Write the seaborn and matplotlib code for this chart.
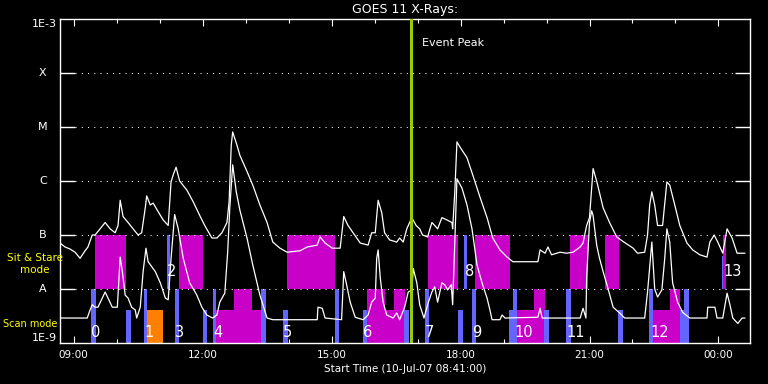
import numpy as np
import pandas as pd
import matplotlib
matplotlib.use("Agg")
import matplotlib.pyplot as plt
import seaborn as sns

# start of the plot window, 10-Jul-07 08:41:00 (hours of day)
start_hour = 8 + 41 / 60.0
window_min = 963

# GOES 11 long channel (1-8 A): minutes after start, flux W/m^2
hi_min = [0, 7, 14, 21, 28, 35, 39, 45, 49, 56,
          63, 70, 77, 81, 84, 88, 95, 102, 109, 114,
          119, 121, 126, 130, 137, 144, 151, 155, 158, 162,
          167, 177, 186, 195, 202, 212, 219, 226, 233, 236,
          239, 241, 247, 251, 261, 269, 279, 289, 297, 307,
          317, 335, 345, 359, 363, 370, 380, 391, 396, 402,
          409, 419, 430, 435, 440, 444, 449, 453, 460, 470,
          474, 479, 484, 491, 497, 502, 506, 513, 519, 523,
          527, 533, 540, 547, 548, 551, 554, 558, 568, 576,
          586, 596, 604, 614, 624, 632, 652, 667, 670, 677,
          681, 686, 698, 707, 716, 726, 730, 735, 739, 744,
          749, 758, 767, 777, 787, 800, 806, 816, 820, 823,
          826, 830, 834, 841, 847, 851, 858, 865, 875, 883,
          893, 903, 907, 913, 918, 925, 931, 938, 945, 956]
hi_flux = [7.1e-8, 6.0e-8, 5.5e-8, 4.8e-8, 3.7e-8, 5.1e-8, 6.0e-8, 1.0e-7, 1.0e-7, 1.3e-7,
           1.7e-7, 1.3e-7, 1.1e-7, 1.5e-7, 4.4e-7, 2.2e-7, 1.7e-7, 1.3e-7, 1.0e-7, 1.1e-7,
           3.2e-7, 5.3e-7, 3.6e-7, 3.9e-7, 2.7e-7, 1.9e-7, 1.5e-7, 9.6e-7, 1.3e-6, 1.8e-6,
           1.0e-6, 6.8e-7, 4.1e-7, 2.3e-7, 1.5e-7, 8.8e-8, 8.8e-8, 1.1e-7, 1.7e-7, 4.1e-7,
           4.6e-6, 8.1e-6, 4.6e-6, 3.0e-6, 1.5e-6, 8.4e-7, 3.6e-7, 1.7e-7, 7.4e-8, 5.7e-8,
           4.8e-8, 5.1e-8, 6.0e-8, 6.5e-8, 9.2e-8, 7.1e-8, 5.7e-8, 5.7e-8, 2.2e-7, 1.5e-7,
           1.1e-7, 7.1e-8, 6.5e-8, 1.1e-7, 1.1e-7, 4.4e-7, 2.6e-7, 1.1e-7, 8.1e-8, 7.4e-8,
           8.8e-8, 7.4e-8, 1.3e-7, 2.1e-7, 1.5e-7, 1.3e-7, 1.0e-7, 9.2e-8, 1.7e-7, 1.5e-7,
           1.3e-7, 2.1e-7, 1.9e-7, 1.7e-7, 1.3e-7, 6.3e-7, 5.3e-6, 4.3e-6, 2.7e-6, 1.3e-6,
           5.1e-7, 2.1e-7, 8.8e-8, 5.3e-8, 3.9e-8, 3.2e-8, 3.2e-8, 3.2e-8, 5.3e-8, 4.6e-8,
           6.0e-8, 4.3e-8, 4.8e-8, 4.6e-8, 4.8e-8, 6.0e-8, 7.1e-8, 1.5e-7, 2.1e-7, 1.7e-6,
           1.0e-6, 3.2e-7, 1.7e-7, 9.2e-8, 7.4e-8, 5.7e-8, 4.6e-8, 4.8e-8, 1.0e-7, 3.6e-7,
           6.3e-7, 3.6e-7, 1.5e-7, 1.5e-7, 9.6e-7, 8.4e-7, 3.6e-7, 1.5e-7, 7.1e-8, 5.3e-8,
           4.3e-8, 3.9e-8, 7.4e-8, 1.0e-7, 7.4e-8, 4.6e-8, 1.3e-7, 8.8e-8, 4.6e-8, 4.6e-8]

# GOES 11 short channel (0.5-4 A)
lo_min = [0, 38, 42, 45, 49, 53, 59, 63, 67, 73,
          80, 84, 87, 91, 95, 100, 105, 107, 112, 116,
          120, 123, 128, 133, 140, 147, 151, 155, 160, 165,
          172, 181, 191, 198, 205, 213, 219, 223, 230, 234,
          237, 241, 246, 251, 261, 269, 279, 289, 297, 359,
          360, 366, 370, 393, 396, 400, 405, 412, 423, 430,
          435, 440, 442, 444, 447, 451, 456, 465, 470, 474,
          481, 486, 491, 493, 498, 502, 508, 513, 519, 523,
          527, 533, 537, 541, 546, 548, 551, 554, 561, 568,
          575, 582, 589, 596, 600, 603, 614, 617, 621, 667,
          670, 673, 726, 730, 734, 735, 739, 742, 744, 749,
          753, 758, 765, 772, 781, 788, 816, 820, 826, 830,
          834, 840, 844, 847, 851, 855, 862, 869, 879, 903,
          904, 914, 917, 925, 931, 935, 939, 946, 952, 956]
lo_flux = [2.9e-9, 2.9e-9, 4.1e-9, 5.1e-9, 4.6e-9, 4.6e-9, 6.8e-9, 8.8e-9, 6.8e-9, 4.6e-9,
           4.6e-9, 3.9e-8, 2.1e-8, 7.7e-9, 6.8e-9, 4.6e-9, 4.1e-9, 2.9e-9, 4.6e-9, 2.1e-8,
           5.7e-8, 3.2e-8, 2.6e-8, 2.1e-8, 1.3e-8, 6.8e-9, 6.3e-9, 3.7e-8, 2.4e-7, 1.3e-7,
           3.7e-8, 1.3e-8, 7.7e-9, 4.6e-9, 3.3e-9, 2.9e-9, 3.3e-9, 5.7e-9, 8.4e-9, 4.8e-8,
           3.2e-7, 2.0e-6, 6.3e-7, 2.9e-7, 8.8e-8, 2.8e-8, 7.7e-9, 2.9e-9, 2.7e-9, 2.7e-9,
           4.6e-9, 4.4e-9, 2.9e-9, 2.7e-9, 2.1e-8, 1.2e-8, 5.7e-9, 3.0e-9, 2.7e-9, 3.3e-9,
           5.7e-9, 6.8e-9, 3.7e-8, 5.3e-8, 1.6e-8, 5.7e-9, 3.3e-9, 2.9e-9, 3.6e-9, 2.7e-9,
           4.6e-9, 8.8e-9, 9.6e-9, 2.4e-8, 1.3e-8, 5.1e-9, 2.9e-9, 5.1e-9, 8.8e-9, 1.1e-8,
           5.7e-9, 1.3e-8, 1.2e-8, 9.6e-9, 1.2e-8, 5.1e-9, 7.4e-8, 1.1e-6, 7.4e-7, 3.6e-7,
           1.3e-7, 2.8e-8, 1.3e-8, 6.8e-9, 4.1e-9, 2.7e-9, 2.7e-9, 3.3e-9, 2.9e-9, 3.0e-9,
           4.4e-9, 2.9e-9, 2.9e-9, 4.4e-9, 2.9e-9, 1.6e-8, 1.7e-7, 2.8e-7, 2.3e-7, 6.5e-8,
           3.7e-8, 2.1e-8, 1.0e-8, 4.6e-9, 3.6e-9, 2.9e-9, 2.9e-9, 8.8e-9, 7.4e-8, 1.0e-8,
           7.1e-9, 9.6e-9, 3.7e-8, 1.3e-7, 7.4e-8, 1.3e-8, 5.7e-9, 3.7e-9, 2.9e-9, 2.9e-9,
           4.6e-9, 4.6e-9, 2.9e-9, 2.9e-9, 8.4e-9, 5.1e-9, 2.9e-9, 2.3e-9, 2.9e-9, 2.9e-9]

event_peak_min = 490

# observation blocks (start, end) in minutes after start
scan_blue_tall = [(43, 50), (117, 121), (160, 166), (213, 218), (280, 287), (384, 389),
                  (509, 515), (575, 580), (632, 638), (706, 713), (822, 827), (871, 878)]
scan_blue_short = [(92, 99), (200, 205), (311, 318), (423, 428), (480, 487), (555, 562),
                   (626, 632), (675, 682), (779, 786), (865, 871)]
scan_magenta_tall = [(243, 268), (428, 453), (466, 481), (661, 677), (851, 866)]
scan_magenta_short = [(218, 243), (268, 280), (453, 466), (638, 661), (827, 851)]
scan_orange_short = [(120, 144)]
stare_magenta = [(49, 92), (166, 200), (317, 384), (513, 555), (579, 628),
                 (712, 737), (760, 780), (926, 929)]
stare_blue = [(149, 153), (564, 568)]
stare_blue_low = [(924, 926)]

obs_labels = ['0', '1', '2', '3', '4', '5', '6', '7', '8', '9', '10', '11', '12', '13']
obs_label_min = [50, 124, 156, 167, 220, 318, 430, 516, 571, 582, 647, 720, 837, 939]
obs_label_band = ['scan', 'scan', 'stare', 'scan', 'scan', 'scan', 'scan', 'scan',
                  'stare', 'scan', 'scan', 'scan', 'scan', 'stare']

class_levels = [1e-9, 1e-8, 1e-7, 1e-6, 1e-5, 1e-4, 1e-3]
class_names = ['1E-9', 'A', 'B', 'C', 'M', 'X', '1E-3']

magenta = '#C800C8'
blue = '#6464FF'
orange = '#FF8000'

sns.set_theme(style="ticks", rc={
    'figure.facecolor': 'black', 'axes.facecolor': 'black',
    'axes.edgecolor': 'white', 'text.color': 'white',
    'xtick.color': 'white', 'ytick.color': 'white',
    'axes.labelcolor': 'white', 'axes.grid': False,
})
plt.rcParams['font.family'] = ['DejaVu Sans']

fig = plt.figure(figsize=(7.68, 3.84), dpi=100)
ax = fig.add_axes([60 / 768, 41 / 384, 690 / 768, 324 / 384])


def to_hours(m):
    return start_hour + np.asarray(m, dtype=float) / 60.0


def draw_spans(spans, bottom, top, color):
    s = np.array([a for a, b in spans], dtype=float)
    e = np.array([b for a, b in spans], dtype=float)
    ax.bar(to_hours(s), top - bottom, width=(e - s) / 60.0, bottom=bottom,
           align='edge', color=color, linewidth=0, zorder=1)


draw_spans(stare_magenta, 1e-8, 1e-7, magenta)
draw_spans(stare_blue, 1e-8, 1e-7, blue)
draw_spans(stare_blue_low, 1e-8, 4.1e-8, blue)
draw_spans(scan_magenta_short, 1e-9, 4.1e-9, magenta)
draw_spans(scan_magenta_tall, 1e-9, 1e-8, magenta)
draw_spans(scan_orange_short, 1e-9, 4.1e-9, orange)
draw_spans(scan_blue_tall, 1e-9, 1e-8, blue)
draw_spans(scan_blue_short, 1e-9, 4.1e-9, blue)

hi = pd.DataFrame({'hour': to_hours(hi_min), 'flux': hi_flux})
lo = pd.DataFrame({'hour': to_hours(lo_min), 'flux': lo_flux})
sns.lineplot(data=hi, x='hour', y='flux', color='white', lw=0.9, sort=False, ax=ax, zorder=3)
sns.lineplot(data=lo, x='hour', y='flux', color='white', lw=0.9, sort=False, ax=ax, zorder=3)

ax.set_yscale('log')
ax.set_ylim(1e-9, 1e-3)
ax.set_xlim(start_hour, start_hour + window_min / 60.0)

# dotted class lines
for lev in class_levels[1:-1]:
    ax.axhline(lev, xmin=15 / 690, xmax=676 / 690, color='white', lw=0.75,
               ls=(0, (1, 5)), zorder=2)

ax.axvline(to_hours(event_peak_min), color='#9ACD00', lw=2.2, zorder=4)
ax.annotate('Event Peak', xy=(to_hours(event_peak_min), 3.6e-4), xytext=(8, 0),
            textcoords='offset points', ha='left', va='center', fontsize=8, color='white')

# observation numbers
for lab, m, band in zip(obs_labels, obs_label_min, obs_label_band):
    yv = 1.55e-9 if band == 'scan' else 2.1e-8
    ax.text(to_hours(m), yv, lab, ha='center', va='center', fontsize=10.5,
            color='white', zorder=5)

# axes styling
ax.set_xticks([9, 12, 15, 18, 21, 24])
ax.set_xticklabels(['09:00', '12:00', '15:00', '18:00', '21:00', '00:00'])
ax.set_xticks(np.arange(9, 25), minor=True)
ax.tick_params(axis='x', which='major', direction='in', length=5, width=0.8,
               top=True, labelsize=7.5, pad=5)
ax.tick_params(axis='x', which='minor', direction='in', length=3, width=0.8, top=True)
ax.set_yticks(class_levels[1:-1])
ax.yaxis.set_minor_locator(matplotlib.ticker.NullLocator())
ax.tick_params(axis='y', which='major', direction='in', length=10.5, width=1.0,
               left=True, right=True, labelleft=False)
for sp in ax.spines.values():
    sp.set_visible(True)
    sp.set_color('white')
    sp.set_linewidth(1.0)

ytr = ax.get_yaxis_transform()
for lev, name in zip(class_levels, class_names):
    if name.startswith('1E'):
        va = 'bottom' if lev == 1e-9 else 'top'
        ax.text(-0.005, lev, name, transform=ytr, ha='right', va=va, fontsize=8, color='white')
    else:
        ax.text(-0.025, lev, name, transform=ytr, ha='center', va='center', fontsize=8, color='white')

ax.set_title('GOES 11 X-Rays:', color='white', fontsize=9, pad=4)
ax.set_xlabel('Start Time (10-Jul-07 08:41:00)', fontsize=7.5, labelpad=3)
ax.set_ylabel('')

fig.text(35 / 768, 1 - 264 / 384, 'Sit & Stare\nmode', color='#FFFF00', fontsize=7.5,
         ha='center', va='center', multialignment='center', linespacing=1.15)
fig.text(3 / 768, 1 - 324 / 384, 'Scan mode', color='#FFFF00', fontsize=7,
         ha='left', va='center')

fig.savefig('out.png', dpi=100, facecolor='black')
